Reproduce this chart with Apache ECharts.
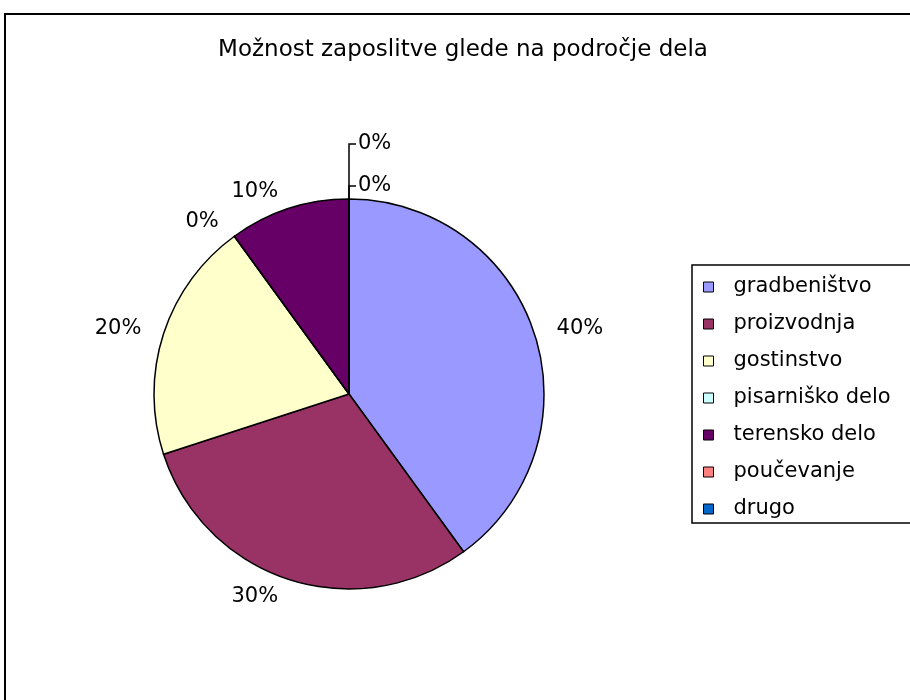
<!DOCTYPE html>
<html>
<head>
<meta charset="utf-8">
<script src="https://cdn.jsdelivr.net/npm/echarts@6/dist/echarts.min.js"></script>
<style>
  html, body { margin: 0; padding: 0; background: #fff; }
  #chart { width: 910px; height: 700px; }
</style>
</head>
<body>
<div id="chart"></div>
<script>
const titleText = "Možnost zaposlitve glede na področje dela";
const categories = ["gradbeništvo", "proizvodnja", "gostinstvo", "pisarniško delo", "terensko delo", "poučevanje", "drugo"];
const percents = [40, 30, 20, 0, 10, 0, 0];
const colors = ["#9999FF", "#993366", "#FFFFCC", "#CCFFFF", "#660066", "#FF8080", "#0066CC"];

const cx = 349, cy = 394, R = 195;
const font = "DejaVu Sans";

const chart = echarts.init(document.getElementById("chart"));

const data = categories.map((name, i) => ({
  name: name,
  value: percents[i],
  itemStyle: { color: colors[i] },
  // the zero slices at the top get leader lines like in the original
  labelLine: { show: i >= 5 },
}));

chart.setOption({
  animation: false,
  backgroundColor: "#fff",
  title: {
    text: titleText,
    left: 463,
    top: 39,
    padding: 0,
    textAlign: "center",
    textStyle: { fontFamily: font, fontSize: 23, fontWeight: "normal", color: "#000" },
  },
  graphic: [
    {
      type: "rect",
      shape: { x: 5, y: 14, width: 1000, height: 1000 },
      style: { fill: null, stroke: "#000", lineWidth: 2 },
      silent: true,
    },
  ],
  legend: {
    orient: "vertical",
    left: 692,
    top: 265,
    padding: [11, 30, 3, 11],
    itemWidth: 10,
    itemHeight: 10,
    itemGap: 15,
    icon: "rect",
    borderColor: "#000",
    borderWidth: 1.5,
    itemStyle: { borderColor: "#000", borderWidth: 1 },
    textStyle: {
      fontFamily: font,
      fontSize: 21,
      lineHeight: 22,
      color: "#000",
      padding: [0, 0, 0, 15],
    },
    data: categories,
  },
  series: [
    {
      type: "pie",
      center: [cx, cy],
      radius: R,
      startAngle: 90,
      clockwise: true,
      avoidLabelOverlap: false,
      itemStyle: { borderColor: "#000", borderWidth: 1.5 },
      label: {
        show: true,
        position: "outside",
        formatter: "{c}%",
        fontFamily: font,
        fontSize: 21,
        color: "#000",
      },
      labelLine: {
        show: false,
        length: 18,
        length2: 0,
        lineStyle: { color: "#000", width: 1.5 },
      },
      labelLayout: function (params) {
        const top = cy - R;
        if (params.dataIndex === 5) {
          return {
            x: cx + 9, y: top - 13, align: "left", verticalAlign: "middle",
            labelLinePoints: [[cx, top], [cx, top - 13], [cx + 7, top - 13]],
          };
        }
        if (params.dataIndex === 6) {
          return {
            x: cx + 9, y: top - 55, align: "left", verticalAlign: "middle",
            labelLinePoints: [[cx, top], [cx, top - 55], [cx + 7, top - 55]],
          };
        }
      },
      emphasis: { disabled: true },
      data: data,
    },
  ],
});
</script>
</body>
</html>
